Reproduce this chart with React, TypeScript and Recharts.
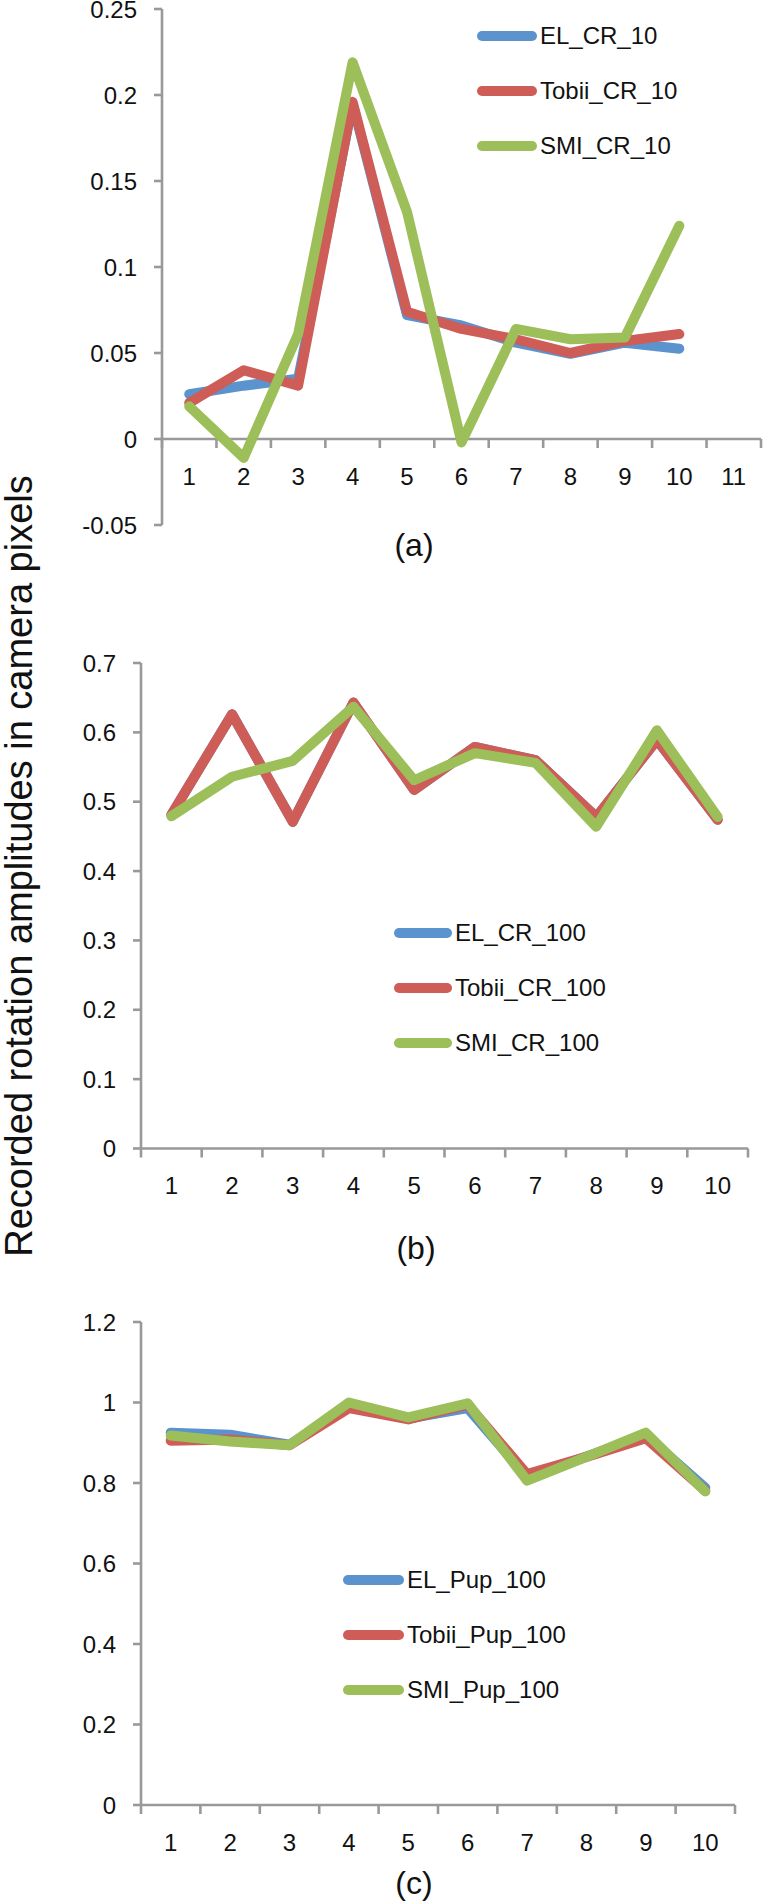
import React from 'react';
import { LineChart, Line, XAxis, YAxis, ReferenceLine, Legend } from 'recharts';

// category labels on the x axes
const catsA = ['1', '2', '3', '4', '5', '6', '7', '8', '9', '10', '11'];
const catsBC = ['1', '2', '3', '4', '5', '6', '7', '8', '9', '10'];

// (a) CR, 10
const elCR10 = [0.026, 0.031, 0.035, 0.195, 0.072, 0.066, 0.056, 0.0495, 0.056, 0.0525];
const tobiiCR10 = [0.021, 0.040, 0.031, 0.196, 0.074, 0.064, 0.058, 0.050, 0.057, 0.061];
const smiCR10 = [0.019, -0.011, 0.061, 0.219, 0.132, -0.002, 0.064, 0.058, 0.059, 0.124];

// (b) CR, 100
const elCR100 = [0.481, 0.626, 0.471, 0.643, 0.517, 0.579, 0.560, 0.478, 0.589, 0.474];
const tobiiCR100 = [0.481, 0.626, 0.471, 0.643, 0.517, 0.579, 0.560, 0.478, 0.589, 0.474];
const smiCR100 = [0.479, 0.536, 0.559, 0.637, 0.531, 0.570, 0.556, 0.464, 0.603, 0.478];

// (c) pupil, 100
const elPup100 = [0.925, 0.920, 0.895, 0.990, 0.960, 0.986, 0.815, 0.866, 0.918, 0.788];
const tobiiPup100 = [0.905, 0.908, 0.894, 0.986, 0.958, 0.995, 0.822, 0.865, 0.911, 0.781];
const smiPup100 = [0.918, 0.903, 0.894, 1.0, 0.963, 0.998, 0.806, 0.865, 0.925, 0.779];

const ticksA = [-0.05, 0, 0.05, 0.1, 0.15, 0.2, 0.25];
const ticksB = [0, 0.1, 0.2, 0.3, 0.4, 0.5, 0.6, 0.7];
const ticksC = [0, 0.2, 0.4, 0.6, 0.8, 1, 1.2];

const BLUE = '#5A93CE';
const RED = '#CE5C57';
const GREEN = '#9CBF59';
const AXIS = '#999999';
const FONT = '"Liberation Sans", Arial, sans-serif';

const rows = (el: number[], tobii: number[], smi: number[]) =>
  el.map((v, i) => ({ x: i + 1, el: v, tobii: tobii[i], smi: smi[i] }));

const dataA = rows(elCR10, tobiiCR10, smiCR10);
const dataB = rows(elCR100, tobiiCR100, smiCR100);
const dataC = rows(elPup100, tobiiPup100, smiPup100);

// Excel-style horizontal axis drawn along y = 0, ticks between categories
const zeroAxis = (cats: string[]) => (props: any) => {
  const { x1, x2, y1 } = props;
  const n = cats.length;
  const step = (x2 - x1) / n;
  return (
    <g>
      <line x1={x1} x2={x2} y1={y1} y2={y1} stroke={AXIS} strokeWidth={2.6} />
      {Array.from({ length: n + 1 }, (_, i) => (
        <line key={'t' + i} x1={x1 + i * step} x2={x1 + i * step} y1={y1} y2={y1 + 9} stroke={AXIS} strokeWidth={2.6} />
      ))}
      {cats.map((c, i) => (
        <text key={c} x={x1 + (i + 0.5) * step} y={y1 + 37} textAnchor="middle" dominantBaseline="central"
          fontSize={24} fontFamily={FONT} fill="#111">
          {c}
        </text>
      ))}
    </g>
  );
};

// legend rows kept in series order (EL, Tobii, SMI)
const legendContent = (lineLen: number, names: string[]) => (props: any) => {
  const items = [...(props.payload || [])].sort(
    (a: any, b: any) => names.indexOf(a.value) - names.indexOf(b.value)
  );
  return (
    <div style={{ fontFamily: FONT, fontSize: 24, color: '#111' }}>
      {items.map((p: any) => (
        <div key={p.value} style={{ height: 55, display: 'flex', alignItems: 'center' }}>
          <svg width={lineLen + 3} height={14} style={{ display: 'block' }}>
            <line x1={5} x2={lineLen - 5} y1={7} y2={7} stroke={p.color} strokeWidth={10} strokeLinecap="round" />
          </svg>
          <span style={{ whiteSpace: 'nowrap' }}>{p.value}</span>
        </div>
      ))}
    </div>
  );
};

type PanelProps = {
  data: any[];
  cats: string[];
  ticks: number[];
  domain: [number, number];
  names: [string, string, string];
  width: number;
  height: number;
  margin: { top: number; right: number; bottom: number; left: number };
  yWidth: number;
  legendPos: { left: number; top: number };
  lineLen: number;
};

function Panel(p: PanelProps) {
  return (
    <LineChart width={p.width} height={p.height} data={p.data} margin={p.margin}>
      <XAxis type="number" dataKey="x" domain={[0.5, p.cats.length + 0.5]} hide />
      <YAxis
        type="number"
        domain={p.domain}
        ticks={p.ticks}
        width={p.yWidth}
        axisLine={{ stroke: AXIS, strokeWidth: 2.6 }}
        tickLine={{ stroke: AXIS, strokeWidth: 2.6 }}
        tickSize={8}
        tickMargin={17}
        tick={{ fontSize: 24, fontFamily: FONT, fill: '#111' }}
        interval={0}
      />
      <ReferenceLine y={0} shape={zeroAxis(p.cats)} />
      <Line type="linear" dataKey="el" name={p.names[0]} stroke={BLUE} strokeWidth={10} dot={false}
        strokeLinejoin="round" strokeLinecap="round" isAnimationActive={false} />
      <Line type="linear" dataKey="tobii" name={p.names[1]} stroke={RED} strokeWidth={10} dot={false}
        strokeLinejoin="round" strokeLinecap="round" isAnimationActive={false} />
      <Line type="linear" dataKey="smi" name={p.names[2]} stroke={GREEN} strokeWidth={10} dot={false}
        strokeLinejoin="round" strokeLinecap="round" isAnimationActive={false} />
      <Legend
        layout="vertical"
        align="center"
        verticalAlign="middle"
        content={legendContent(p.lineLen, p.names)}
        wrapperStyle={{ left: p.legendPos.left, top: p.legendPos.top, width: 'auto', height: 'auto' }}
      />
    </LineChart>
  );
}

export default function App() {
  return (
    <div style={{ position: 'absolute', left: 0, top: 0, width: 763, height: 1902, background: '#fff' }}>
      <div style={{ position: 'absolute', left: 0, top: 0 }}>
        <Panel data={dataA} cats={catsA} ticks={ticksA} domain={[-0.05, 0.25]}
          names={['EL_CR_10', 'Tobii_CR_10', 'SMI_CR_10']}
          width={763} height={580} margin={{ top: 9, right: 2, bottom: 55, left: 0 }} yWidth={162}
          legendPos={{ left: 477, top: 8 }} lineLen={60} />
      </div>
      <div style={{ position: 'absolute', left: 0, top: 600 }}>
        <Panel data={dataB} cats={catsBC} ticks={ticksB} domain={[0, 0.7]}
          names={['EL_CR_100', 'Tobii_CR_100', 'SMI_CR_100']}
          width={763} height={680} margin={{ top: 63, right: 15, bottom: 131.5, left: 0 }} yWidth={141}
          legendPos={{ left: 394, top: 305.5 }} lineLen={58} />
      </div>
      <div style={{ position: 'absolute', left: 0, top: 1290 }}>
        <Panel data={dataC} cats={catsBC} ticks={ticksC} domain={[0, 1.2]}
          names={['EL_Pup_100', 'Tobii_Pup_100', 'SMI_Pup_100']}
          width={763} height={612} margin={{ top: 32, right: 28, bottom: 97, left: 0 }} yWidth={141}
          legendPos={{ left: 343, top: 262.5 }} lineLen={61} />
      </div>
      <svg width={763} height={1902} style={{ position: 'absolute', left: 0, top: 0, pointerEvents: 'none' }}>
        <text transform="translate(32, 866) rotate(-90)" textAnchor="middle" fontSize={38} fontFamily={FONT} fill="#111">
          Recorded rotation amplitudes in camera pixels
        </text>
        <text x={414} y={545} textAnchor="middle" dominantBaseline="central" fontSize={32} fontFamily={FONT} fill="#111">(a)</text>
        <text x={416} y={1248} textAnchor="middle" dominantBaseline="central" fontSize={32} fontFamily={FONT} fill="#111">(b)</text>
        <text x={414} y={1883} textAnchor="middle" dominantBaseline="central" fontSize={32} fontFamily={FONT} fill="#111">(c)</text>
      </svg>
    </div>
  );
}
